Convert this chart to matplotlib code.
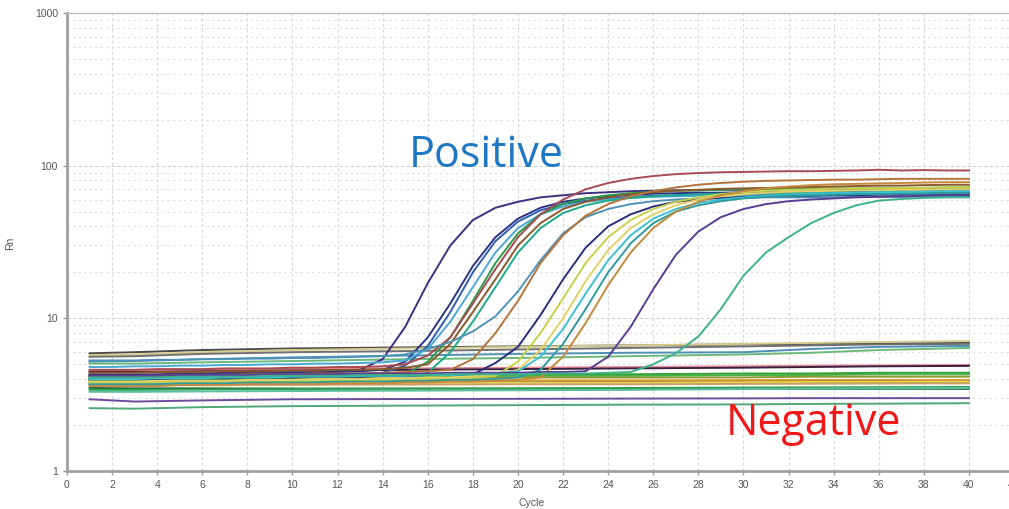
import matplotlib
matplotlib.use("Agg")
import matplotlib.pyplot as plt
import numpy as np

# Amplification data (Rn per cycle)
cycles = np.arange(1, 41)

pos_A = [4.3, 4.3, 4.3, 4.3, 4.35, 4.35, 4.4, 4.4, 4.4, 4.45, 4.45, 4.5,
         4.6, 5.4, 8.8, 17, 30, 44, 53, 58, 62, 64, 66, 67, 68, 68.5,
         69, 69, 69.5, 69.5, 70, 70, 70, 70, 70, 70, 70, 70, 70, 70]
pos_B = [4.2, 4.2, 4.2, 4.25, 4.25, 4.3, 4.3, 4.35, 4.35, 4.4, 4.4, 4.45, 4.5,
         4.6, 5.2, 7.5, 12.5, 22, 34, 45, 53, 58, 61, 63, 64.5, 65.5, 66,
         66.5, 66.5, 67, 67, 67, 67.5, 67.5, 67.5, 68, 68, 68, 68, 68]
pos_C = [4.0, 4.0, 4.0, 4.05, 4.05, 4.05, 4.1, 4.1, 4.1, 4.15, 4.15, 4.2, 4.25,
         4.4, 4.9, 6.6, 11, 20, 32, 43, 51, 56, 59, 61, 62.5, 63.5, 64,
         64, 64.5, 64.5, 65, 65, 65, 65.5, 65.5, 65.5, 66, 66, 66, 66]
pos_D = [4.8, 4.8, 4.85, 4.85, 4.9, 4.9, 4.95, 4.95, 5.0, 5.0, 5.05, 5.05, 5.1, 5.15,
         5.3, 6.3, 9.5, 16, 27, 39, 48, 54, 58, 60, 61.5, 62.5, 63, 63.5,
         64, 64, 64, 64.5, 64.5, 64.5, 65, 65, 65, 65, 65, 65]
pos_E = [3.9, 3.9, 3.9, 3.95, 3.95, 3.95, 4.0, 4.0, 4.0, 4.05, 4.05, 4.1, 4.1, 4.2,
         4.3, 5.2, 7.5, 13, 23, 36, 48, 56, 61, 64, 66, 67.5, 68.5, 69,
         69.5, 70, 70, 70.5, 70.5, 71, 71, 71, 71.5, 71.5, 72, 72]
pos_F = [4.6, 4.6, 4.6, 4.65, 4.65, 4.65, 4.7, 4.7, 4.7, 4.75, 4.75, 4.8, 4.8, 4.85,
         5.0, 5.7, 7.5, 12.5, 21, 34, 48, 60, 70, 77, 82, 85.5, 88, 89.5,
         90.5, 91, 91.5, 92, 92, 92.5, 93, 94, 93, 93.5, 93, 93]
pos_G = [4.4, 4.4, 4.4, 4.45, 4.45, 4.45, 4.5, 4.5, 4.5, 4.55, 4.55, 4.6, 4.6, 4.65, 4.75,
         5.0, 6.8, 11, 18, 30, 42, 52, 58, 62, 65, 67, 68.5, 69.5, 70.5,
         71, 71.5, 72, 72.5, 73, 73.5, 74, 74, 74.5, 75, 75]
pos_H = [3.7, 3.7, 3.7, 3.75, 3.75, 3.75, 3.8, 3.8, 3.8, 3.85, 3.85, 3.85, 3.9, 3.95, 4.05,
         4.4, 6.0, 9.5, 16, 27, 39, 49, 55, 59, 61.5, 63, 64, 65, 65.5,
         66, 66, 66.5, 66.5, 67, 67, 67, 67.5, 67.5, 68, 68]
pos_I = [5.3, 5.3, 5.3, 5.35, 5.35, 5.4, 5.4, 5.45, 5.45, 5.5, 5.5, 5.55, 5.6, 5.65,
         5.8, 6.3, 7.0, 8.2, 10.3, 15, 24, 36, 46, 52, 56, 58.5, 60, 61,
         61.5, 61.5, 62, 62, 62, 62, 62.5, 62.5, 62.5, 62.5, 62.5, 62.5]
pos_J = [4.2, 4.2, 4.2, 4.2, 4.25, 4.25, 4.25, 4.3, 4.3, 4.3, 4.35, 4.35, 4.35, 4.4, 4.45, 4.5,
         4.6, 5.4, 8.0, 13, 23, 35, 47, 56, 63, 68, 72, 75, 77, 78.5,
         79.5, 80, 80.5, 81, 81, 81.5, 82, 82, 82, 82]
pos_K = [4.0, 4.0, 4.0, 4.0, 4.05, 4.05, 4.05, 4.1, 4.1, 4.1, 4.15, 4.15, 4.15, 4.2, 4.2, 4.25, 4.25,
         4.3, 5.1, 6.5, 10.5, 18, 29, 40, 48, 54, 58, 60, 61.5, 62.5, 63,
         63.5, 63.5, 64, 64, 64.5, 64.5, 65, 65, 65]
pos_L = [3.75, 3.75, 3.75, 3.8, 3.8, 3.8, 3.8, 3.85, 3.85, 3.85, 3.9, 3.9, 3.9, 3.95, 3.95, 4.0, 4.0, 4.1,
         4.2, 5.2, 8, 13.5, 23, 34, 44, 52, 58, 62, 65, 67, 68.5, 69.5,
         70, 70.5, 71, 71, 71.5, 71.5, 72, 72]
pos_M = [3.85, 3.85, 3.85, 3.9, 3.9, 3.9, 3.9, 3.95, 3.95, 3.95, 4.0, 4.0, 4.0, 4.05, 4.05, 4.1, 4.1, 4.2, 4.3,
         4.6, 6.2, 10, 17.5, 28, 39, 48, 55, 60, 63, 65, 66.5, 67.5, 68,
         68.5, 69, 69, 69.5, 69.5, 70, 70]
pos_N = [4.0, 4.0, 4.0, 4.05, 4.05, 4.05, 4.1, 4.1, 4.1, 4.15, 4.15, 4.15, 4.2, 4.2, 4.2, 4.25, 4.25, 4.3, 4.35,
         4.5, 5.6, 8.5, 14.5, 24, 35, 45, 52, 57, 60, 62, 63.5, 64.5, 65.5,
         66, 66.5, 67, 67, 67.5, 68, 68]
pos_O = [3.7, 3.7, 3.7, 3.7, 3.75, 3.75, 3.75, 3.8, 3.8, 3.8, 3.8, 3.85, 3.85, 3.85, 3.9, 3.9, 3.95, 3.95, 4.0, 4.1,
         4.6, 6.8, 11.5, 20, 31, 42, 50, 55, 58.5, 61, 62.5, 63.5, 64, 64.5,
         65, 65, 65.5, 65.5, 66, 66]
pos_P = [3.6, 3.6, 3.6, 3.6, 3.65, 3.65, 3.65, 3.7, 3.7, 3.7, 3.7, 3.75, 3.75, 3.75, 3.8, 3.8, 3.85, 3.85, 3.9, 3.95,
         4.1, 5.6, 9.3, 16.5, 27, 39, 50, 58, 64, 68, 71, 73, 74.5, 75.5,
         76, 76.5, 77, 77.5, 78, 78]
pos_Q = [4.2, 4.2, 4.2, 4.2, 4.25, 4.25, 4.25, 4.25, 4.3, 4.3, 4.3, 4.3, 4.35, 4.35, 4.35, 4.35,
         4.4, 4.4, 4.4, 4.4, 4.45, 4.45,
         4.5, 5.6, 8.8, 15.5, 26, 37, 46, 52, 56, 58.5, 60, 61, 62, 62.5,
         63, 63.5, 64, 64]
pos_R = [4.1, 4.1, 4.1, 4.1, 4.15, 4.15, 4.15, 4.15, 4.2, 4.2, 4.2, 4.2, 4.25, 4.25, 4.25, 4.25,
         4.3, 4.3, 4.3, 4.3, 4.35, 4.35, 4.35, 4.4,
         4.45, 5.0, 5.9, 7.6, 11.5, 19, 27, 34, 42, 49, 55, 59, 60.5, 61.5, 62, 62]

positives = [pos_A, pos_B, pos_C, pos_D, pos_E, pos_F, pos_G, pos_H, pos_I,
             pos_J, pos_K, pos_L, pos_M, pos_N, pos_O, pos_P, pos_Q, pos_R]
pos_colors = ["#3d2f7f", "#2c3585", "#2f5fb0", "#4aa8d8", "#2a9d4a", "#a84a52",
              "#8b5a2b", "#1fa88c", "#4f92b8", "#b5733a", "#2a2f7a", "#c8d04a",
              "#e3d066", "#3cc0d6", "#2c9c9e", "#c58a3c", "#5a3d94", "#3cb38a"]

# negative wells, read at a few cycles (they stay flat)
neg_cycles = [1, 3, 6, 10, 15, 20, 25, 30, 33, 36, 40]
negatives = [
    [5.9, 6.0, 6.2, 6.35, 6.45, 6.55, 6.65, 6.75, 6.8, 6.85, 6.9],
    [5.75, 5.8, 6.0, 6.2, 6.35, 6.5, 6.65, 6.8, 6.9, 7.0, 7.1],
    [5.6, 5.65, 5.85, 6.0, 6.1, 6.25, 6.4, 6.55, 6.65, 6.75, 6.8],
    [5.2, 5.25, 5.4, 5.55, 5.7, 5.85, 5.95, 6.0, 6.3, 6.5, 6.6],
    [5.05, 5.05, 5.15, 5.25, 5.4, 5.5, 5.65, 5.8, 5.95, 6.2, 6.4],
    [4.55, 4.55, 4.6, 4.65, 4.7, 4.75, 4.8, 4.85, 4.9, 4.92, 4.95],
    [4.45, 4.45, 4.5, 4.55, 4.6, 4.65, 4.7, 4.75, 4.8, 4.85, 4.88],
    [4.2, 4.2, 4.2, 4.25, 4.25, 4.3, 4.3, 4.35, 4.35, 4.4, 4.4],
    [4.1, 4.1, 4.1, 4.15, 4.15, 4.2, 4.2, 4.25, 4.25, 4.3, 4.3],
    [4.0, 4.0, 4.0, 4.05, 4.05, 4.1, 4.1, 4.1, 4.15, 4.15, 4.15],
    [3.9, 3.9, 3.9, 3.9, 3.92, 3.92, 3.93, 3.94, 3.95, 3.95, 3.95],
    [3.8, 3.8, 3.8, 3.8, 3.82, 3.82, 3.83, 3.84, 3.85, 3.85, 3.85],
    [3.75, 3.75, 3.76, 3.77, 3.78, 3.8, 3.8, 3.82, 3.83, 3.84, 3.85],
    [3.65, 3.65, 3.66, 3.67, 3.68, 3.7, 3.7, 3.72, 3.73, 3.74, 3.75],
    [3.5, 3.48, 3.48, 3.47, 3.47, 3.46, 3.46, 3.45, 3.45, 3.45, 3.45],
    [3.4, 3.4, 3.42, 3.44, 3.46, 3.48, 3.5, 3.52, 3.53, 3.54, 3.55],
    [3.3, 3.3, 3.32, 3.34, 3.36, 3.38, 3.4, 3.44, 3.46, 3.48, 3.5],
    [2.95, 2.85, 2.9, 2.95, 2.96, 2.97, 2.98, 2.99, 3.0, 3.0, 3.0],
    [2.58, 2.56, 2.62, 2.66, 2.68, 2.7, 2.72, 2.73, 2.75, 2.76, 2.78],
]
neg_colors = ["#4a4a4a", "#d8cc8c", "#707070", "#4d8fb5", "#6ab87a",
              "#e88a9a", "#3a2040", "#2ca02c", "#48b048", "#8a9a30",
              "#e0a030", "#7a4a20", "#e8d050", "#c8a060", "#1f6f3f",
              "#30a050", "#5ac0a0", "#6a4a9a", "#50a878"]

x_ticks = list(range(0, 43, 2))
y_ticks = [1, 10, 100, 1000]
y_tick_labels = ["1", "10", "100", "1000"]

fig = plt.figure(figsize=(10.09, 5.09), dpi=100)
ax = fig.add_axes([67 / 1009, 38 / 509, 947 / 1009, 458 / 509])

for vals, col in zip(negatives, neg_colors):
    ax.plot(neg_cycles, vals, color=col, lw=1.4)
for vals, col in zip(positives, pos_colors):
    ax.plot(cycles, vals, color=col, lw=1.4)

ax.set_yscale("log")
ax.set_ylim(1, 1000)
ax.set_xlim(0, 42)
ax.set_xticks(x_ticks)
ax.set_xticklabels([str(t) for t in x_ticks])
ax.set_yticks(y_ticks)
ax.set_yticklabels(y_tick_labels)
ax.yaxis.set_minor_formatter(matplotlib.ticker.NullFormatter())

ax.tick_params(axis="both", which="major", labelsize=7.5, labelcolor="#555555",
               color="#999999", length=3, width=1)
ax.tick_params(axis="y", which="minor", length=0)
for lab in ax.get_xticklabels() + ax.get_yticklabels():
    lab.set_fontfamily("Liberation Sans")

ax.grid(True, axis="x", which="major", color="#dadada", linestyle=(0, (3, 2)), lw=0.8)
ax.grid(True, axis="y", which="major", color="#d0d0d0", linestyle=(0, (3, 2)), lw=0.8)
ax.grid(True, axis="y", which="minor", color="#dedede", linestyle=(0, (2, 3)), lw=0.8)
ax.set_axisbelow(True)

ax.spines["left"].set_color("#a0a0a0")
ax.spines["left"].set_linewidth(2)
ax.spines["bottom"].set_color("#a0a0a0")
ax.spines["bottom"].set_linewidth(2)
ax.spines["top"].set_color("#c0c0c0")
ax.spines["top"].set_linewidth(1)
ax.spines["right"].set_visible(False)

ax.set_xlabel("Cycle", fontsize=7.5, color="#555555", family="Liberation Sans")
ax.xaxis.set_label_coords((532 - 67) / 947, -(498 - 471) / 458)
ax.set_ylabel("Rn", fontsize=7.5, color="#555555", family="Liberation Sans")
ax.yaxis.set_label_coords(-(67 - 15) / 947, (471 - 243) / 458)

ax.text(18.6, 117, "Positive", color="#1f78c4", fontsize=31, family="Open Sans",
        ha="center", va="center")
ax.text(33.1, 2.05, "Negative", color="#f01818", fontsize=31, family="Open Sans",
        ha="center", va="center")

fig.savefig("out.png", dpi=100)
